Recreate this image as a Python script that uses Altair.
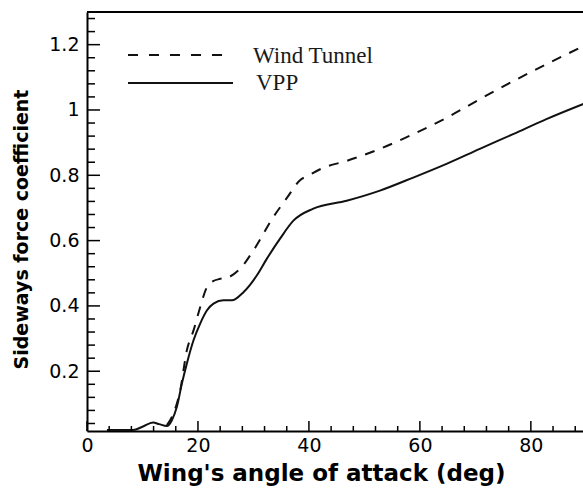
import altair as alt
import pandas as pd

# ---- data ----
vpp_deg = [3.6, 8.3, 10.0, 11.9, 13.0, 14.4, 15.3, 16.2, 17.1, 18.0, 19.2, 20.4, 21.6, 22.8,
           24.6, 26.1, 28.2, 30.6, 32.4, 34.8, 37.2, 40.8, 46.8, 52.8, 58.8, 64.8, 70.8,
           76.8, 82.8, 90.0]
vpp_val = [0.02, 0.02, 0.03, 0.043, 0.038, 0.032, 0.05, 0.091, 0.162, 0.224, 0.295, 0.346,
           0.386, 0.407, 0.417, 0.417, 0.442, 0.493, 0.544, 0.606, 0.661, 0.698, 0.722,
           0.753, 0.793, 0.835, 0.881, 0.926, 0.972, 1.022]

wt_deg = [14.4, 15.3, 16.8, 18.0, 19.2, 20.4, 21.6, 22.4, 24.0, 25.2, 27.6, 30.0, 33.5,
          36.0, 38.4, 40.0, 42.6, 46.8, 52.8, 58.8, 64.8, 70.8, 76.8, 82.8, 90.0]
wt_val = [0.035, 0.06, 0.142, 0.264, 0.325, 0.396, 0.457, 0.472, 0.483, 0.486, 0.514, 0.57,
          0.67, 0.73, 0.785, 0.80, 0.823, 0.844, 0.881, 0.926, 0.976, 1.033, 1.088, 1.14, 1.20]

series_names = ["Wind Tunnel", "VPP"]

x_major = [0, 20, 40, 60, 80]
x_minor = [4, 8, 12, 16, 24, 28, 32, 36, 44, 48, 52, 56, 64, 68, 72, 76, 84, 88]
y_major = [0.2, 0.4, 0.6, 0.8, 1.0, 1.2]
y_minor = [0.04, 0.08, 0.12, 0.16, 0.24, 0.28, 0.32, 0.36, 0.44, 0.48, 0.52, 0.56,
           0.64, 0.68, 0.72, 0.76, 0.84, 0.88, 0.92, 0.96, 1.04, 1.08, 1.12, 1.16,
           1.24, 1.28]

W, H = 496, 419
xscale = alt.Scale(domain=[0, 89.4], nice=False, zero=False)
yscale = alt.Scale(domain=[0.017, 1.3], nice=False, zero=False)

df_wt = pd.DataFrame({"deg": wt_deg, "val": wt_val, "series": series_names[0]})
df_vpp = pd.DataFrame({"deg": vpp_deg, "val": vpp_val, "series": series_names[1]})

x_axis = alt.Axis(values=x_major, format="d", tickSize=0, ticks=False, labelPadding=5,
                  labelFlush=False,
                  labelFont="DejaVu Sans", labelFontSize=19, labelColor="black",
                  domainColor="black", domainWidth=2, grid=False,
                  title="Wing's angle of attack (deg)", titleFont="DejaVu Sans",
                  titleFontSize=23, titleFontWeight="bold", titleColor="black",
                  titleX=234, titleY=49, titleAlign="center", titleBaseline="alphabetic")
y_axis = alt.Axis(values=y_major, tickSize=0, ticks=False, labelPadding=8,
                  labelFlush=False,
                  labelExpr="datum.value == 1 ? '1' : format(datum.value, '.1f')",
                  labelFont="DejaVu Sans", labelFontSize=19, labelColor="black",
                  domainColor="black", domainWidth=2, grid=False,
                  title="Sideways force coefficient", titleFont="DejaVu Sans",
                  titleFontSize=19, titleFontWeight="bold", titleColor="black",
                  titleX=-60, titleY=217, titleAlign="center", titleAngle=-90,
                  titleBaseline="alphabetic")

X = lambda f: alt.X(f, scale=xscale, axis=x_axis)
Y = lambda f: alt.Y(f, scale=yscale, axis=y_axis)

wt_line = alt.Chart(df_wt).mark_line(color="#111111", strokeWidth=2, strokeDash=[10, 9],
                                     interpolate="monotone", clip=True).encode(
    x=X("deg:Q"), y=Y("val:Q"))
vpp_line = alt.Chart(df_vpp).mark_line(color="#111111", strokeWidth=2,
                                       interpolate="monotone", clip=True).encode(
    x=X("deg:Q"), y=Y("val:Q"))

def yticks(vals, length):
    return alt.Chart(pd.DataFrame({"val": vals})).mark_rule(color="black", strokeWidth=1.5).encode(
        y=Y("val:Q"), x=alt.value(0), x2=alt.value(length))

def xticks(vals, length):
    return alt.Chart(pd.DataFrame({"deg": vals})).mark_rule(color="black", strokeWidth=1.5).encode(
        x=X("deg:Q"), y=alt.value(H), y2=alt.value(H - length))

top_border = alt.Chart(pd.DataFrame({"a": [0]})).mark_rule(color="black", strokeWidth=2).encode(
    x=alt.value(0), x2=alt.value(W), y=alt.value(0))

leg_wt = alt.Chart(pd.DataFrame({"a": [0]})).mark_rule(
    color="#111111", strokeWidth=2, strokeDash=[10, 11]).encode(
    x=alt.value(41), x2=alt.value(141), y=alt.value(43))
leg_vpp = alt.Chart(pd.DataFrame({"a": [0]})).mark_rule(color="#111111", strokeWidth=2).encode(
    x=alt.value(41), x2=alt.value(146), y=alt.value(71))
leg_t1 = alt.Chart(pd.DataFrame({"a": [0]})).mark_text(
    text=series_names[0], font="Liberation Serif", fontSize=23, align="left",
    baseline="alphabetic", color="#1a1a1a").encode(x=alt.value(166), y=alt.value(51))
leg_t2 = alt.Chart(pd.DataFrame({"a": [0]})).mark_text(
    text=series_names[1], font="Liberation Serif", fontSize=23, align="left",
    baseline="alphabetic", color="#1a1a1a").encode(x=alt.value(169), y=alt.value(78))

chart = alt.layer(
    wt_line, vpp_line,
    yticks(y_major, 13), yticks(y_minor, 8),
    xticks(x_major, 10), xticks(x_minor, 5),
    top_border, leg_wt, leg_vpp, leg_t1, leg_t2,
).properties(
    width=W, height=H,
    autosize=alt.AutoSizeParams(type="none"),
    padding={"left": 87, "top": 12, "right": 0, "bottom": 57},
    background="white",
).configure_view(strokeWidth=0)

chart.save("out.html", embed_options={"renderer": "svg", "actions": False})
